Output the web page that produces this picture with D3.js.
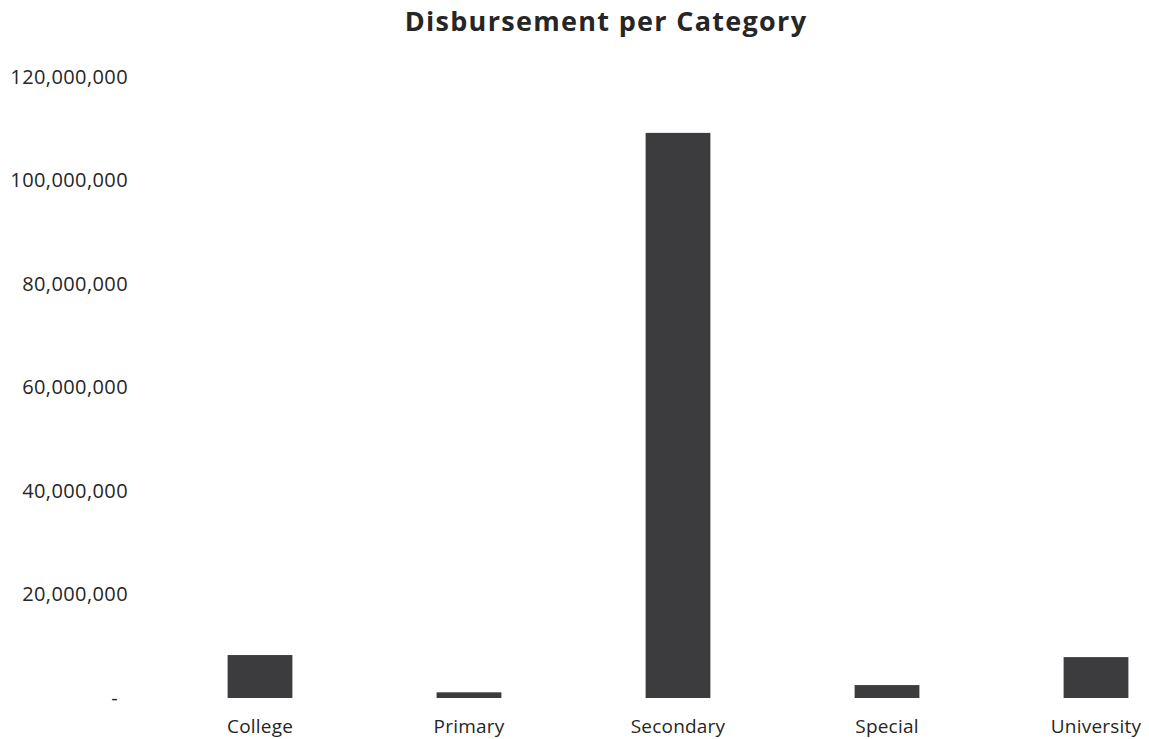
<!DOCTYPE html>
<html>
<head>
<meta charset="utf-8">
<script src="https://cdn.jsdelivr.net/npm/d3@7"></script>
<style>
  html, body { margin: 0; padding: 0; background: #fff; }
  svg { display: block; }
  text { font-family: "Open Sans", Lato, sans-serif; fill: #262626; }
</style>
</head>
<body>
<script>
const categories = ["College", "Primary", "Secondary", "Special", "University"];
const values = [8300000, 1100000, 109200000, 2500000, 7900000];
const yTicks = [0, 20000000, 40000000, 60000000, 80000000, 100000000, 120000000];
const title = "Disbursement per Category";

const W = 1149, H = 739;
const FONT = "'Open Sans', Lato, sans-serif";
const svg = d3.select("body").append("svg").attr("width", W).attr("height", H);

const y = d3.scaleLinear().domain([0, 120000000]).range([698, 77]);
const x = d3.scaleBand().domain(categories).range([155.5, 1200.5])
  .paddingInner(0.69).paddingOuter(0.345);

svg.append("text")
  .attr("x", 606).attr("y", 31)
  .attr("text-anchor", "middle")
  .style("font-family", FONT)
  .style("font-size", "27px").style("font-weight", "bold")
  .style("letter-spacing", "1.3px")
  .text(title);

const fmt = d3.format(",");
const yAxis = d3.axisLeft(y).tickValues(yTicks).tickSize(0).tickPadding(0)
  .tickFormat(d => d === 0 ? "-" : fmt(d));
const gy = svg.append("g").attr("transform", "translate(128,0)").call(yAxis);
gy.select(".domain").remove();
gy.selectAll("text").style("font-size", "20px").style("font-family", FONT)
  .style("letter-spacing", "0.4px").attr("fill", "#262626")
  .attr("dx", d => d === 0 ? -10 : 0);

svg.append("g").selectAll("rect").data(categories).join("rect")
  .attr("x", d => x(d))
  .attr("width", x.bandwidth())
  .attr("y", (d, i) => y(values[i]))
  .attr("height", (d, i) => y(0) - y(values[i]))
  .attr("fill", "#3c3c3e");

const xAxis = d3.axisBottom(x).tickSize(0).tickPadding(0);
const gx = svg.append("g").attr("transform", "translate(0,733)").call(xAxis);
gx.select(".domain").remove();
gx.selectAll("text").style("font-size", "19px").style("font-family", FONT)
  .style("letter-spacing", "0.2px").attr("fill", "#262626")
  .attr("dy", "0");
</script>
</body>
</html>
